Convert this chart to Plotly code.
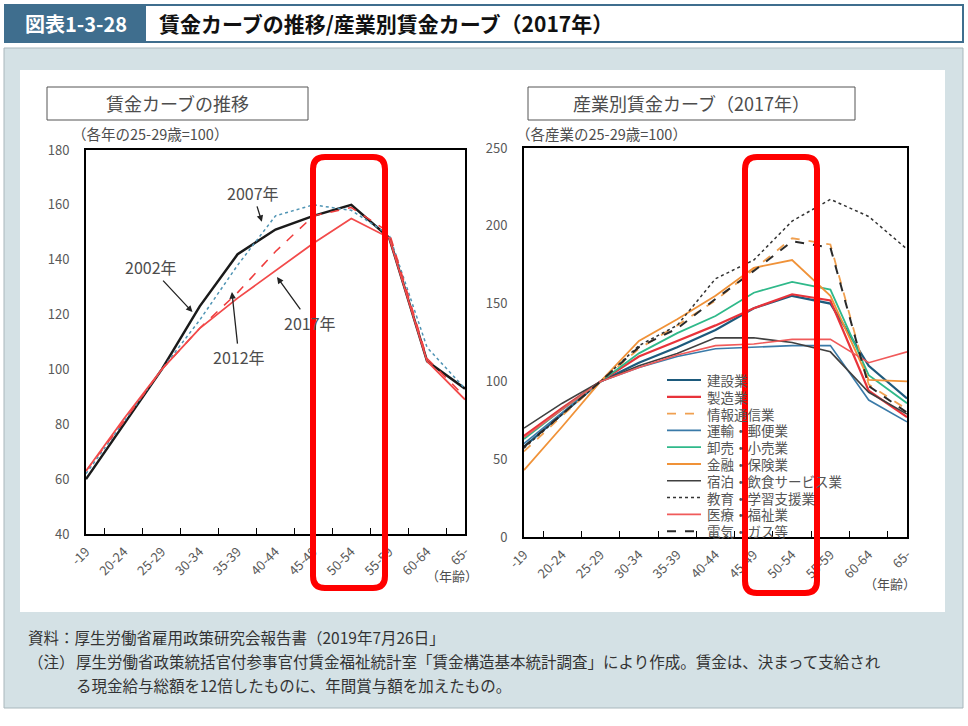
import plotly.graph_objects as go
from plotly.subplots import make_subplots

W, H = 968, 726

# age groups (x axis of both charts)
age_groups = ["-19", "20-24", "25-29", "30-34", "35-39", "40-44",
              "45-49", "50-54", "55-59", "60-64", "65-"]

# left chart: wage curve by year (25-29 = 100)
wage_2002 = [60, 80, 100, 123, 142, 151, 156, 160, 148, 103, 93]
wage_2007 = [62, 81, 100, 118, 138, 156, 160, 158, 149, 108, 93]
wage_2012 = [63, 81, 100, 115, 128, 143, 156, 159, 150, 104, 90]
wage_2017 = [63, 82, 100, 115, 126, 136, 146, 155, 148, 103, 89]

# right chart: wage curve by industry, 2017 (25-29 = 100)
ind_construction = [58, 79, 100, 112, 122, 133, 147, 155, 150, 110, 89]
ind_manufacturing = [65, 83, 100, 116, 126, 136, 147, 156, 152, 94, 77]
ind_infocomm = [55, 78, 100, 121, 136, 152, 172, 192, 188, 98, 82]
ind_transport = [60, 80, 100, 109, 116, 121, 122, 123, 123, 88, 74]
ind_retail = [63, 82, 100, 118, 131, 142, 157, 164, 159, 104, 86]
ind_finance = [43, 71, 100, 126, 140, 155, 173, 178, 155, 101, 100]
ind_hospitality = [70, 86, 100, 110, 118, 128, 128, 125, 119, 93, 79]
ind_education = [57, 79, 100, 123, 136, 166, 178, 203, 217, 206, 185]
ind_medical = [64, 82, 100, 109, 117, 123, 124, 127, 127, 112, 119]
ind_utilities = [58, 79, 100, 122, 134, 153, 171, 190, 186, 97, 80]

FONT = "Noto Sans CJK JP"
GREY_TXT = "#4d4d4d"


def X(px):
    return px / W


def Y(py):
    return 1 - py / H


def rounded_path(x0, y0, x1, y1, r):
    p = [
        f"M {X(x0 + r)},{Y(y0)}", f"L {X(x1 - r)},{Y(y0)}",
        f"Q {X(x1)},{Y(y0)} {X(x1)},{Y(y0 + r)}", f"L {X(x1)},{Y(y1 - r)}",
        f"Q {X(x1)},{Y(y1)} {X(x1 - r)},{Y(y1)}", f"L {X(x0 + r)},{Y(y1)}",
        f"Q {X(x0)},{Y(y1)} {X(x0)},{Y(y1 - r)}", f"L {X(x0)},{Y(y0 + r)}",
        f"Q {X(x0)},{Y(y0)} {X(x0 + r)},{Y(y0)}", "Z",
    ]
    return " ".join(p)


fig = make_subplots(rows=1, cols=2)

# left chart
fig.add_trace(go.Scatter(x=age_groups, y=wage_2002, mode="lines", name="2002年",
                         line=dict(color="#1a1a1a", width=2.5)), 1, 1)
fig.add_trace(go.Scatter(x=age_groups, y=wage_2007, mode="lines", name="2007年",
                         line=dict(color="#4f94b4", width=1.5, dash="dot")), 1, 1)
fig.add_trace(go.Scatter(x=age_groups, y=wage_2012, mode="lines", name="2012年",
                         line=dict(color="#ee3b3b", width=1.5, dash="dash")), 1, 1)
fig.add_trace(go.Scatter(x=age_groups, y=wage_2017, mode="lines", name="2017年",
                         line=dict(color="#f24a4a", width=1.8)), 1, 1)

# right chart
industries = [
    ("建設業", ind_construction, "#1d5a7c", "solid", 2.2),
    ("製造業", ind_manufacturing, "#e8333a", "solid", 2.2),
    ("情報通信業", ind_infocomm, "#f0a050", "dash", 1.8),
    ("運輸・郵便業", ind_transport, "#3a7aa8", "solid", 1.6),
    ("卸売・小売業", ind_retail, "#2fb98a", "solid", 1.8),
    ("金融・保険業", ind_finance, "#f09238", "solid", 1.8),
    ("宿泊・飲食サービス業", ind_hospitality, "#404040", "solid", 1.6),
    ("教育・学習支援業", ind_education, "#333333", "dot", 1.5),
    ("医療・福祉業", ind_medical, "#f05a5a", "solid", 1.6),
    ("電気・ガス等", ind_utilities, "#2a2a2a", "dash", 2.0),
]
for name, vals, col, dash, w in industries:
    fig.add_trace(go.Scatter(x=age_groups, y=vals, mode="lines", name=name,
                             line=dict(color=col, width=w, dash=dash)), 1, 2)

axis_common = dict(showline=True, mirror=True, linecolor="black", linewidth=2,
                   showgrid=False, zeroline=False, automargin=False,
                   tickfont=dict(family=FONT, size=13, color="#595959"))

fig.update_xaxes(**axis_common, type="category", tickangle=-45, ticks="inside",
                 tickson="boundaries", ticklen=6, tickcolor="black",
                 ticklabelstandoff=3)
fig.update_xaxes(domain=[X(86), X(465)], row=1, col=1)
fig.update_xaxes(domain=[X(524), X(907)], row=1, col=2)
fig.update_yaxes(**axis_common, ticks="", ticklabelstandoff=12)
fig.update_yaxes(domain=[Y(534), Y(150)], range=[40, 180], dtick=20, row=1, col=1)
fig.update_yaxes(domain=[Y(537), Y(148)], range=[0, 250], dtick=50, row=1, col=2)

shapes = [
    # grey panel and white inner panel
    dict(type="rect", xref="paper", yref="paper", x0=X(4), x1=X(963), y0=Y(708), y1=Y(48),
         fillcolor="#d4e1e5", line=dict(color="#a9b7bc", width=1), layer="below"),
    dict(type="rect", xref="paper", yref="paper", x0=X(20), x1=X(945), y0=Y(612), y1=Y(70),
         fillcolor="white", line=dict(width=0), layer="below"),
    # title banner
    dict(type="rect", xref="paper", yref="paper", x0=X(5), x1=X(963), y0=Y(42), y1=Y(5),
         fillcolor="white", line=dict(color="#3f6e8e", width=2), layer="below"),
    dict(type="rect", xref="paper", yref="paper", x0=X(5), x1=X(146), y0=Y(42), y1=Y(5),
         fillcolor="#3f6e8e", line=dict(width=0), layer="below"),
    # subtitle boxes
    dict(type="rect", xref="paper", yref="paper", x0=X(47), x1=X(308), y0=Y(120), y1=Y(87),
         fillcolor="white", line=dict(color="#555555", width=1), layer="below"),
    dict(type="rect", xref="paper", yref="paper", x0=X(528), x1=X(855), y0=Y(120), y1=Y(87),
         fillcolor="white", line=dict(color="#555555", width=1), layer="below"),
]

annotations = [
    dict(text="<b>図表1-3-28</b>", x=X(76), y=Y(23), font=dict(size=20, color="white")),
    dict(text="<b>賃金カーブの推移/産業別賃金カーブ（2017年）</b>", x=X(157), y=Y(23),
         xanchor="left", font=dict(size=21, color="#111111")),
    dict(text="賃金カーブの推移", x=X(177), y=Y(103), font=dict(size=18, color=GREY_TXT)),
    dict(text="産業別賃金カーブ（2017年）", x=X(691), y=Y(103), font=dict(size=18, color=GREY_TXT)),
    dict(text="（各年の25-29歳=100）", x=X(70), y=Y(133), xanchor="left",
         font=dict(size=14.5, color=GREY_TXT)),
    dict(text="（各産業の25-29歳=100）", x=X(514), y=Y(133), xanchor="left",
         font=dict(size=14.5, color=GREY_TXT)),
    dict(text="（年齢）", x=X(452), y=Y(575), font=dict(size=13, color=GREY_TXT)),
    dict(text="（年齢）", x=X(890), y=Y(583), font=dict(size=13, color=GREY_TXT)),
    dict(text="資料：厚生労働省雇用政策研究会報告書（2019年7月26日」", x=X(26), y=Y(637),
         xanchor="left", font=dict(size=15.5, color="#333333")),
    dict(text="（注）", x=X(26), y=Y(661), xanchor="left", font=dict(size=15.5, color="#333333")),
    dict(text="厚生労働省政策統括官付参事官付賃金福祉統計室「賃金構造基本統計調査」により作成。賃金は、決まって支給され",
         x=X(74), y=Y(661), xanchor="left", font=dict(size=15.5, color="#333333")),
    dict(text="る現金給与総額を12倍したものに、年間賞与額を加えたもの。", x=X(74), y=Y(685),
         xanchor="left", font=dict(size=15.5, color="#333333")),
]

# hand-drawn legend for the industry chart (tighter spacing than plotly's own)
for i, (name, vals, col, dash, w) in enumerate(industries):
    yy = 380 + i * 16.8
    shapes.append(dict(type="line", xref="paper", yref="paper",
                       x0=X(667), x1=X(701), y0=Y(yy), y1=Y(yy),
                       line=dict(color=col, width=w, dash=dash), layer="above"))
    annotations.append(dict(text=name, x=X(705), y=Y(yy), xanchor="left",
                            font=dict(size=13.5, color="#555555")))

# red highlight boxes on top
shapes += [
    dict(type="path", xref="paper", yref="paper", path=rounded_path(313, 157, 385, 588, 12),
         line=dict(color="#ff0000", width=6), layer="above"),
    dict(type="path", xref="paper", yref="paper", path=rounded_path(745, 157, 817, 593, 12),
         line=dict(color="#ff0000", width=6), layer="above"),
]

for a in annotations:
    a.update(xref="paper", yref="paper", showarrow=False, yanchor="middle")
    a.setdefault("xanchor", "center")
    a["font"]["family"] = FONT

# year labels with arrows on the left chart
year_labels = [
    ("2007年", 4.64, 153.8, -9, -29),
    ("2002年", 2.81, 120.9, -42, -45),
    ("2012年", 3.85, 128.2, 7, 65),
    ("2017年", 5.04, 133.7, 33, 46),
]
for txt, xi, yv, ax, ay in year_labels:
    annotations.append(dict(text=txt, x=xi, y=yv, xref="x", yref="y", ax=ax, ay=ay,
                            showarrow=True, arrowhead=2, arrowsize=1, arrowwidth=1.3,
                            arrowcolor="#222222", standoff=0,
                            font=dict(family=FONT, size=16, color=GREY_TXT)))

fig.update_layout(
    width=W, height=H, autosize=False,
    margin=dict(l=0, r=0, t=0, b=0, autoexpand=False),
    paper_bgcolor="white", plot_bgcolor="white",
    font=dict(family=FONT),
    showlegend=False,
    shapes=shapes, annotations=annotations,
)

fig.write_html("out.html", config={"displayModeBar": False},
               post_script="document.body.style.margin='0';")
